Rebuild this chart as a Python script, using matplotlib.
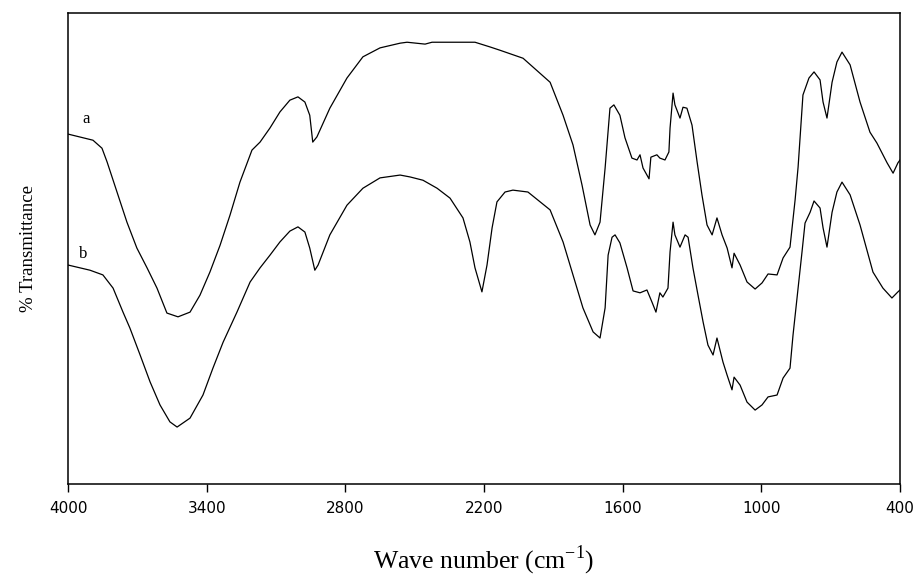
import matplotlib
matplotlib.use('Agg')
from matplotlib import pyplot as plt

# spectrum a (wavenumber, % transmittance)
wn_a = [4000, 3892, 3853, 3831, 3788, 3745, 3702, 3658, 3615, 3572, 3524, 3472, 3429, 3386,
        3342, 3299, 3256, 3204, 3169, 3126, 3083, 3040, 3005, 2975, 2954, 2941, 2923, 2867,
        2793, 2724, 2650, 2563, 2533, 2455, 2425, 2239, 2174, 2131, 2031, 1914, 1858, 1815,
        1776, 1741, 1720, 1698, 1676, 1655, 1638, 1612, 1590, 1560, 1538, 1525, 1512, 1486,
        1478, 1452, 1439, 1417, 1400, 1395, 1382, 1374, 1352, 1339, 1322, 1300, 1278, 1257,
        1235, 1213, 1192, 1170, 1148, 1127, 1118, 1092, 1062, 1027, 997, 971, 932, 906, 876,
        854, 841, 820, 794, 772, 746, 733, 716, 694, 673, 651, 616, 573, 530, 500, 456, 430,
        409, 400]
t_a = [74.3, 73.0, 71.3, 68.4, 62.0, 55.6, 50.1, 45.9, 41.6, 36.3, 35.5, 36.5, 40.1, 45.0,
       50.7, 57.1, 64.1, 70.9, 72.6, 75.6, 79.0, 81.5, 82.2, 81.1, 78.3, 72.6, 73.7, 79.8,
       86.2, 90.7, 92.6, 93.6, 93.8, 93.4, 93.8, 93.8, 92.8, 92.1, 90.4, 85.3, 78.3, 72.0,
       63.5, 55.0, 52.9, 55.6, 67.1, 79.8, 80.5, 78.3, 73.5, 69.2, 68.8, 69.9, 67.1, 64.8,
       69.4, 69.9, 69.2, 68.8, 70.5, 75.6, 83.0, 80.5, 77.7, 80.0, 79.8, 76.2, 68.4, 61.4,
       55.0, 52.9, 56.5, 52.9, 50.1, 45.9, 49.0, 46.5, 42.9, 41.4, 42.7, 44.6, 44.4, 48.0, 50.3,
       60.3, 67.3, 82.6, 86.2, 87.5, 85.8, 81.1, 77.7, 85.3, 89.6, 91.7, 89.0, 81.1, 74.7,
       72.4, 68.2, 66.0, 68.2, 68.8]

# spectrum b
wn_b = [4000, 3905, 3849, 3805, 3762, 3732, 3688, 3645, 3602, 3559, 3528, 3472, 3416, 3373,
        3329, 3269, 3212, 3169, 3126, 3083, 3040, 3005, 2975, 2954, 2932, 2918, 2867, 2793,
        2724, 2650, 2563, 2520, 2464, 2403, 2347, 2291, 2261, 2239, 2209, 2187, 2165, 2144,
        2109, 2075, 2010, 1914, 1858, 1815, 1772, 1728, 1698, 1676, 1663, 1646, 1633, 1612,
        1581, 1555, 1525, 1495, 1473, 1456, 1439, 1426, 1404, 1395, 1382, 1374, 1352, 1330,
        1317, 1296, 1274, 1252, 1231, 1209, 1192, 1166, 1148, 1127, 1118, 1092, 1062, 1027,
        997, 971, 932, 906, 876, 863, 841, 824, 811, 789, 772, 746, 733, 716, 694, 673, 651,
        616, 573, 517, 474, 435, 409, 400]
t_b = [46.5, 45.4, 44.4, 41.6, 36.5, 33.1, 27.4, 21.7, 16.8, 13.2, 12.1, 14.0, 18.9, 24.6,
       30.1, 36.5, 42.9, 45.9, 48.6, 51.4, 53.7, 54.6, 53.5, 50.1, 45.4, 46.5, 52.9, 59.2,
       62.8, 65.0, 65.6, 65.2, 64.5, 62.8, 60.7, 56.5, 51.4, 45.9, 40.8, 46.5, 54.4, 59.9,
       62.0, 62.4, 62.0, 58.2, 51.4, 44.4, 37.4, 32.3, 31.0, 37.4, 48.6, 52.4, 52.9, 51.2,
       45.9, 41.0, 40.6, 41.2, 38.6, 36.5, 40.6, 39.7, 41.6, 49.3, 55.6, 52.9, 50.3, 52.9,
       52.4, 45.9, 40.1, 34.4, 29.5, 27.4, 31.0, 25.9, 23.1, 20.0, 22.7, 21.0, 17.4, 15.7,
       16.8, 18.5, 18.9, 22.5, 24.6, 31.6, 41.6, 49.3, 55.4, 57.7, 60.1, 58.6, 54.4, 50.3,
       57.7, 62.0, 64.1, 61.4, 55.0, 45.0, 41.6, 39.5, 40.8, 41.2]

xticks = [4000, 3400, 2800, 2200, 1600, 1000, 400]

fig = plt.figure(figsize=(9.14, 5.79), dpi=100)
ax = fig.add_axes([0.0744, 0.164, 0.9103, 0.8135])

ax.plot(wn_a, t_a, color='black', lw=0.9)
ax.plot(wn_b, t_b, color='black', lw=0.9)

ax.text(3922, 77.5, 'a', family='Liberation Serif', fontsize=12, ha='center', va='center')
ax.text(3935, 48.8, 'b', family='Liberation Serif', fontsize=12, ha='center', va='center')

ax.set_xlim(4000, 400)
ax.set_ylim(0, 100)
ax.set_xticks(xticks)
ax.set_xticklabels([str(t) for t in xticks], fontsize=11)
ax.set_yticks([])
ax.tick_params(axis='x', direction='out', length=6, width=1, pad=6)
for s in ax.spines.values():
    s.set_linewidth(1.1)

ax.set_xlabel('Wave number (cm$^{\\mathregular{-1}}$)', family='Liberation Serif',
              fontsize=18.5, labelpad=20)
ax.set_ylabel('% Transmittance', family='Liberation Serif', fontsize=13.5, labelpad=22)

plt.savefig('out.png', dpi=100)
